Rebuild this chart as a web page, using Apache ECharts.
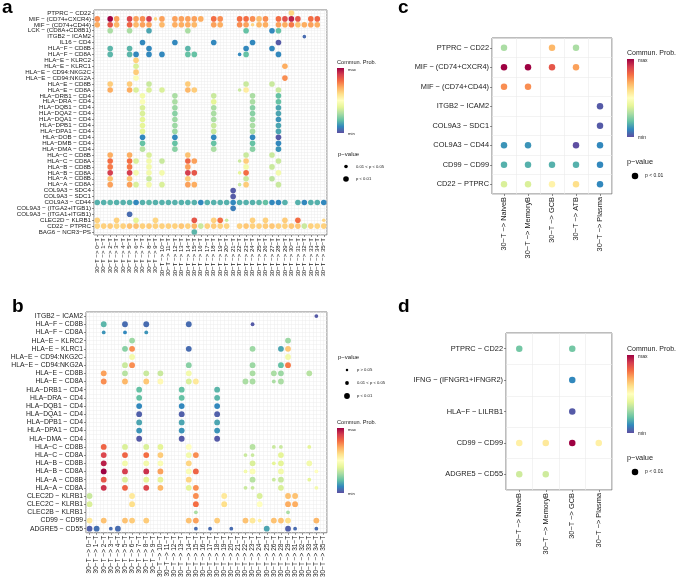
<!DOCTYPE html>
<html>
<head>
<meta charset="utf-8">
<script src="https://cdn.jsdelivr.net/npm/echarts@6/dist/echarts.min.js"></script>
<style>
  html, body { margin: 0; padding: 0; background: #fff; }
  #main { width: 677px; height: 580px; }
</style>
</head>
<body>
<div id="main"></div>
<script>
var FONT = 'Liberation Sans, Arial, sans-serif';
var spectral = ['#5E4FA2', '#3288BD', '#66C2A5', '#ABDDA4', '#E6F598', '#FFFFBF',
  '#FEE08B', '#FDAE61', '#F46D43', '#D53E4F', '#9E0142'];

// ---- panel a : 30-T -> all T clusters
var aTargets = [0, 1, 2, 3, 4, 5, 6, 7, 8, 9, 10, 11, 12, 13, 14, 15, 16, 17, 18, 19, 20,
  21, 22, 23, 24, 25, 26, 27, 28, 29, 30, 31, 32, 33, 34, 35];
var aPairs = ['PTPRC − CD22', 'MIF − (CD74+CXCR4)', 'MIF − (CD74+CD44)', 'LCK − (CD8A+CD8B1)',
  'ITGB2 − ICAM2', 'IL16 − CD4', 'HLA−F − CD8B', 'HLA−F − CD8A', 'HLA−E − KLRC2', 'HLA−E − KLRC1',
  'HLA−E − CD94:NKG2C', 'HLA−E − CD94:NKG2A', 'HLA−E − CD8B', 'HLA−E − CD8A', 'HLA−DRB1 − CD4',
  'HLA−DRA − CD4', 'HLA−DQB1 − CD4', 'HLA−DQA2 − CD4', 'HLA−DQA1 − CD4', 'HLA−DPB1 − CD4',
  'HLA−DPA1 − CD4', 'HLA−DOB − CD4', 'HLA−DMB − CD4', 'HLA−DMA − CD4', 'HLA−C − CD8B',
  'HLA−C − CD8A', 'HLA−B − CD8B', 'HLA−B − CD8A', 'HLA−A − CD8B', 'HLA−A − CD8A',
  'COL9A3 − SDC4', 'COL9A3 − SDC1', 'COL9A3 − CD44', 'COL9A3 − (ITGA2+ITGB1)',
  'COL9A3 − (ITGA1+ITGB1)', 'CLEC2D − KLRB1', 'CD22 − PTPRC', 'BAG6 − NCR3−PS'];
// one list per pair: [target index, commun. prob (0 min .. 1 max), p code]
// p code: 2 = p < 0.01, 1 = 0.01 < p < 0.05, 0 = p > 0.05
var aDots = [
  [[30, .62, 2]],
  [[0, .75, 2], [2, 1, 2], [3, .72, 2], [5, .88, 2], [6, .72, 2], [7, .75, 2], [8, .9, 2], [9, .62, 1],
   [10, .72, 2], [12, .72, 2], [13, .72, 2], [14, .72, 2], [15, .72, 2], [16, .7, 2], [18, .8, 2],
   [19, .75, 2], [22, .8, 2], [23, .8, 2], [24, .75, 2], [25, .67, 2], [26, .75, 2], [28, .8, 2],
   [29, .86, 2], [30, .95, 2], [31, .85, 2], [33, .8, 2], [34, .82, 2]],
  [[0, .7, 2], [2, .85, 2], [3, .68, 2], [5, .82, 2], [6, .68, 2], [7, .72, 2], [8, .72, 2],
   [10, .68, 2], [12, .7, 2], [13, .7, 2], [14, .7, 2], [15, .68, 2], [18, .72, 2], [19, .7, 2],
   [22, .75, 2], [23, .72, 2], [24, .62, 1], [25, .68, 2], [26, .7, 2], [28, .72, 2], [29, .7, 2],
   [30, .78, 2], [31, .66, 2], [32, .7, 2], [33, .72, 2], [34, .7, 2]],
  [[2, .3, 2], [5, .3, 2], [8, .15, 2], [14, .3, 2], [23, .2, 2], [27, .1, 2], [28, .2, 2]],
  [[32, .05, 1]],
  [[7, .1, 2], [12, .1, 2], [18, .1, 2], [24, .1, 2], [28, .02, 2]],
  [[2, .18, 2], [5, .18, 2], [8, .1, 2], [14, .18, 2], [23, .1, 2], [27, .1, 2]],
  [[2, .18, 2], [5, .18, 2], [6, .1, 2], [8, .1, 2], [10, .1, 2], [14, .2, 2], [15, .2, 2],
   [22, .1, 1], [23, .2, 2], [28, .1, 2]],
  [[6, .63, 2]],
  [[6, .38, 2], [29, .7, 2]],
  [[6, .64, 2]],
  [[6, .48, 2], [29, .75, 2]],
  [[2, .64, 2], [5, .64, 2], [8, .35, 2], [14, .64, 2], [23, .35, 2], [27, .35, 2]],
  [[2, .7, 2], [5, .7, 2], [6, .38, 2], [8, .38, 2], [10, .38, 2], [14, .68, 2], [15, .64, 2],
   [22, .35, 1], [23, .56, 2], [28, .35, 2]],
  [[7, .45, 2], [12, .3, 2], [18, .35, 2], [24, .3, 2], [28, .2, 2]],
  [[7, .48, 2], [12, .3, 2], [18, .4, 2], [24, .3, 2], [28, .2, 2]],
  [[7, .38, 2], [12, .28, 2], [18, .3, 2], [24, .25, 2], [28, .15, 2]],
  [[7, .38, 2], [12, .25, 2], [18, .3, 2], [24, .25, 2], [28, .15, 2]],
  [[7, .4, 2], [12, .28, 2], [18, .3, 2], [24, .28, 2], [28, .12, 2]],
  [[7, .4, 2], [12, .28, 2], [18, .35, 2], [24, .3, 2], [28, .15, 2]],
  [[7, .4, 2], [12, .28, 2], [18, .35, 2], [24, .3, 2], [28, .15, 2]],
  [[7, .1, 2], [12, .1, 2], [18, .1, 2], [24, .1, 2], [28, .02, 2]],
  [[7, .2, 2], [12, .2, 2], [18, .2, 2], [24, .2, 2], [28, .1, 2]],
  [[7, .32, 2], [12, .25, 2], [18, .3, 2], [24, .25, 2], [28, .12, 2]],
  [[2, .7, 2], [5, .7, 2], [8, .38, 2], [14, .66, 2], [23, .35, 2], [27, .35, 2]],
  [[2, .8, 2], [5, .8, 2], [6, .38, 2], [8, .45, 2], [10, .35, 2], [14, .82, 2], [15, .72, 2],
   [22, .35, 1], [23, .64, 2], [28, .35, 2]],
  [[2, .78, 2], [5, .78, 2], [8, .45, 2], [14, .72, 2], [23, .45, 2], [27, .35, 2]],
  [[2, .9, 2], [5, .9, 2], [6, .45, 2], [8, .45, 2], [10, .45, 2], [14, .9, 2], [15, .85, 2],
   [22, .4, 1], [23, .8, 2], [28, .45, 2]],
  [[2, .66, 2], [5, .66, 2], [8, .35, 2], [14, .64, 2], [23, .35, 2], [27, .33, 2]],
  [[2, .72, 2], [5, .72, 2], [6, .38, 2], [8, .45, 2], [10, .38, 2], [14, .72, 2], [15, .7, 2],
   [22, .35, 1], [23, .64, 2], [28, .35, 2]],
  [[21, .02, 2]],
  [[21, .02, 2]],
  [[0, .17, 2], [1, .17, 2], [2, .18, 2], [3, .17, 2], [4, .17, 2], [5, .17, 2], [6, .1, 2],
   [7, .17, 2], [8, .18, 2], [9, .17, 2], [10, .17, 2], [11, .17, 2], [12, .17, 2], [13, .17, 2],
   [14, .17, 2], [15, .17, 2], [16, .1, 2], [17, .17, 2], [18, .17, 2], [19, .17, 2], [20, .17, 2],
   [21, .1, 2], [22, .17, 2], [23, .17, 2], [24, .17, 2], [25, .18, 2], [26, .2, 2], [27, .1, 2],
   [28, .1, 2], [29, .17, 2], [31, .17, 2], [32, .1, 2], [33, .17, 2], [34, .17, 2], [35, .1, 2]],
  [[21, .08, 2]],
  [[5, .05, 2]],
  [[0, .63, 2], [3, .63, 2], [6, .4, 2], [9, .62, 2], [15, .85, 2], [18, .63, 2], [19, .8, 2],
   [20, .35, 1], [24, .63, 2], [26, .63, 2], [29, .64, 2], [31, .8, 2], [35, .62, 1]],
  [[0, .62, 2], [1, .63, 2], [2, .64, 2], [3, .62, 2], [4, .63, 2], [5, .66, 2], [6, .66, 2],
   [7, .63, 2], [8, .64, 2], [9, .63, 2], [10, .63, 2], [11, .63, 2], [12, .63, 2], [13, .65, 2],
   [14, .63, 2], [15, .68, 2], [16, .35, 2], [17, .63, 2], [18, .64, 2], [19, .63, 2], [20, .62, 2],
   [22, .63, 2], [23, .65, 2], [24, .63, 2], [25, .63, 2], [26, .64, 2], [27, .65, 2], [28, .63, 2],
   [29, .63, 2], [30, .65, 2], [31, .65, 2], [32, .35, 2], [33, .63, 2], [34, .62, 2], [35, .63, 2]],
  [[15, .18, 2]]
];

// ---- panel b : 30-T -> T clusters (subset)
var bTargets = [0, 1, 2, 3, 4, 5, 6, 7, 8, 9, 10, 11, 12, 13, 14, 15, 16, 17, 18, 19, 20,
  21, 22, 23, 24, 25, 26, 28, 29, 31, 32, 33, 34, 35];
var bPairs = ['ITGB2 − ICAM2', 'HLA−F − CD8B', 'HLA−F − CD8A', 'HLA−E − KLRC2', 'HLA−E − KLRC1',
  'HLA−E − CD94:NKG2C', 'HLA−E − CD94:NKG2A', 'HLA−E − CD8B', 'HLA−E − CD8A', 'HLA−DRB1 − CD4',
  'HLA−DRA − CD4', 'HLA−DQB1 − CD4', 'HLA−DQA1 − CD4', 'HLA−DPB1 − CD4', 'HLA−DPA1 − CD4',
  'HLA−DMA − CD4', 'HLA−C − CD8B', 'HLA−C − CD8A', 'HLA−B − CD8B', 'HLA−B − CD8A',
  'HLA−A − CD8B', 'HLA−A − CD8A', 'CLEC2D − KLRB1', 'CLEC2C − KLRB1', 'CLEC2B − KLRB1',
  'CD99 − CD99', 'ADGRE5 − CD55'];
// [position in bTargets, prob, p code]
var bDots = [
  [[32, .02, 1]],
  [[2, .18, 2], [5, .05, 2], [8, .05, 2], [14, .05, 2], [23, .02, 1]],
  [[2, .12, 1], [5, .1, 1], [8, .12, 1]],
  [[6, .28, 2], [28, .28, 2]],
  [[5, .25, 2], [6, .75, 2], [14, .05, 2], [23, .28, 2], [27, .15, 2], [28, .65, 2]],
  [[6, .45, 2], [28, .45, 2]],
  [[5, .35, 2], [6, .75, 2], [14, .25, 2], [23, .28, 2], [27, .2, 2], [28, .78, 2]],
  [[2, .72, 2], [5, .32, 2], [8, .35, 2], [10, .35, 2], [14, .45, 2], [23, .3, 2], [26, .3, 2],
   [27, .28, 2], [31, .32, 2]],
  [[2, .75, 2], [5, .68, 2], [8, .65, 2], [10, .52, 2], [14, .38, 2], [15, .57, 2], [22, .3, 2],
   [23, .3, 2], [26, .3, 1], [27, .3, 2]],
  [[7, .2, 2], [13, .2, 2], [18, .18, 2]],
  [[7, .2, 2], [13, .2, 2], [18, .18, 2]],
  [[7, .1, 2], [13, .1, 2], [18, .1, 2]],
  [[7, .03, 2], [13, .03, 2], [18, .03, 2]],
  [[7, .15, 2], [13, .15, 2], [18, .15, 2]],
  [[7, .12, 2], [13, .12, 2], [18, .12, 2]],
  [[7, .02, 2], [13, .02, 2], [18, .02, 2]],
  [[2, .82, 2], [5, .38, 2], [8, .38, 2], [10, .4, 2], [14, .5, 2], [23, .32, 2], [26, .35, 1],
   [27, .35, 1], [31, .4, 1]],
  [[2, .88, 2], [5, .82, 2], [8, .8, 2], [10, .64, 2], [14, .45, 2], [15, .75, 2], [22, .35, 1],
   [23, .35, 1], [27, .4, 2]],
  [[2, .95, 2], [5, .45, 2], [8, .45, 2], [10, .48, 2], [14, .62, 2], [23, .38, 2], [26, .4, 1],
   [27, .4, 2], [31, .45, 2]],
  [[2, 1, 2], [5, .9, 2], [8, .92, 2], [10, .72, 2], [14, .48, 2], [15, .82, 2], [22, .45, 1],
   [23, .48, 2], [27, .45, 2], [32, .5, 1]],
  [[2, .85, 2], [5, .38, 2], [8, .4, 2], [10, .4, 2], [14, .62, 2], [23, .32, 2], [26, .35, 1],
   [27, .35, 2], [31, .4, 1]],
  [[2, .92, 2], [5, .82, 2], [8, .88, 2], [10, .68, 2], [14, .4, 2], [15, .75, 2], [22, .35, 1],
   [23, .35, 1], [27, .38, 2], [32, .45, 1]],
  [[0, .35, 2], [6, .57, 2], [15, .75, 2], [19, .57, 2], [24, .38, 2], [28, .66, 2], [29, .66, 2]],
  [[0, .38, 2], [6, .6, 2], [15, .8, 2], [19, .6, 2], [24, .5, 2], [28, .7, 2], [29, .7, 2]],
  [[15, .3, 1], [28, .3, 1]],
  [[0, .57, 2], [2, .66, 2], [5, .66, 2], [6, .64, 2], [8, .64, 2], [14, .66, 2], [15, .72, 2],
   [18, .64, 2], [22, .66, 2], [23, .57, 2], [24, .55, 1], [26, .66, 2], [27, .66, 2],
   [28, .6, 2], [32, .68, 2]],
  [[0, .03, 2], [1, .06, 2], [3, .05, 1], [4, .05, 2], [15, .05, 1], [17, .05, 1], [20, .05, 1],
   [25, .15, 2], [28, .03, 2], [29, .05, 1], [32, .05, 1]]
];

// ---- panel c : 30-T -> B cells
var cTargets = ['NaiveB', 'MemoryB', 'GCB', 'ATB', 'Plasma'];
var cPairs = ['PTPRC − CD22', 'MIF − (CD74+CXCR4)', 'MIF − (CD74+CD44)', 'ITGB2 − ICAM2',
  'COL9A3 − SDC1', 'COL9A3 − CD44', 'CD99 − CD99', 'CD22 − PTPRC'];
var cDots = [
  [[0, .3, 2], [2, .68, 2], [3, .3, 2]],
  [[0, 1, 2], [1, 1, 2], [2, .85, 2], [3, .72, 2]],
  [[0, .75, 2], [1, .75, 2]],
  [[4, .02, 2]],
  [[4, .02, 2]],
  [[0, .12, 2], [1, .12, 2], [3, 0, 2], [4, .1, 2]],
  [[0, .17, 2], [1, .17, 2], [2, .17, 2], [3, .17, 2], [4, .1, 2]],
  [[0, .38, 2], [1, .38, 2], [2, .54, 2], [3, .6, 2], [4, .1, 2]]
];

// ---- panel d : 30-T -> B cells
var dTargets = ['NaiveB', 'MemoryB', 'GCB', 'Plasma'];
var dPairs = ['PTPRC − CD22', 'IFNG − (IFNGR1+IFNGR2)', 'HLA−F − LILRB1', 'CD99 − CD99',
  'ADGRE5 − CD55'];
var dDots = [
  [[0, .22, 2], [2, .22, 2]],
  [[2, .1, 2]],
  [[2, .02, 2]],
  [[0, .55, 2], [1, .57, 2], [2, 1, 2], [3, .55, 2]],
  [[0, .36, 2], [1, .36, 2]]
];

function toPoints(rows) {
  var out = [];
  rows.forEach(function (list, r) {
    list.forEach(function (d) { out.push([d[0], r, d[1], d[2]]); });
  });
  return out;
}
function tLabels(arr) {
  return arr.map(function (t) { return '30−T −> ' + (typeof t === 'number' ? t + '−T' : t); });
}

var panels = [
  { x: tLabels(aTargets), y: aPairs, pts: toPoints(aDots), grid: [94, 10, 233, 225], fy: 6.2, fx: 6.1, size: [2.5, 3.6, 5.6], fine: true },
  { x: tLabels(bTargets), y: bPairs, pts: toPoints(bDots), grid: [86, 312, 241, 223], fy: 6.8, fx: 6.5, size: [2.5, 3.8, 5.8], fine: true },
  { x: tLabels(cTargets), y: cPairs, pts: toPoints(cDots), grid: [492, 38, 120, 156], fy: 7.4, fx: 7.4, size: [3, 4.5, 6.5] },
  { x: tLabels(dTargets), y: dPairs, pts: toPoints(dDots), grid: [506, 333, 106, 157], fy: 7.4, fx: 7.4, size: [3, 4.5, 6.5] }
];

var grids = [], xAxes = [], yAxes = [], series = [], vmaps = [];
var extraX = [], extraY = [];
panels.forEach(function (p, i) {
  grids.push({ left: p.grid[0], top: p.grid[1], width: p.grid[2], height: p.grid[3],
    show: true, borderColor: '#7a7a7a', borderWidth: 1, backgroundColor: '#fff' });
  var tick = { show: true, length: 2, alignWithLabel: true, lineStyle: { color: '#444', width: 0.6 } };
  var split = { show: !p.fine, lineStyle: { color: '#ebebeb', width: 0.6 } };
  xAxes.push({ gridIndex: i, type: 'category', data: p.x, boundaryGap: true,
    axisLine: { show: false }, axisTick: tick, splitLine: split,
    axisLabel: { rotate: 90, interval: 0, margin: 3, fontSize: p.fx, color: '#1a1a1a', fontFamily: FONT } });
  yAxes.push({ gridIndex: i, type: 'category', data: p.y, inverse: true, boundaryGap: true,
    axisLine: { show: false }, axisTick: tick, splitLine: split,
    axisLabel: { interval: 0, margin: 3, fontSize: p.fy, color: '#1a1a1a', fontFamily: FONT } });
  if (p.fine) {
    // hidden half-cell axes: grid lines through the dots and between them
    var half = function (n) { var h = []; for (var k = 0; k < 2 * n; k++) h.push(String(k)); return h; };
    var hidden = { gridIndex: i, type: 'category', boundaryGap: true, axisLine: { show: false },
      axisTick: { show: false }, axisLabel: { show: false },
      splitLine: { show: true, interval: 0, lineStyle: { color: '#ececec', width: 0.5 } } };
    extraX.push(Object.assign({ data: half(p.x.length) }, hidden));
    extraY.push(Object.assign({ data: half(p.y.length) }, hidden));
  }
  series.push({ type: 'scatter', xAxisIndex: i, yAxisIndex: i, data: p.pts, silent: true, z: 3,
    symbolSize: function (v) { return p.size[v[3]]; }, itemStyle: { opacity: 1 } });
  vmaps.push({ type: 'continuous', show: false, seriesIndex: i, dimension: 2, min: 0, max: 1,
    inRange: { color: spectral } });
});

// legend helpers
var grad = { type: 'linear', x: 0, y: 0, x2: 0, y2: 1,
  colorStops: spectral.slice().reverse().map(function (c, k) { return { offset: k / 10, color: c }; }) };
function txt(x, y, s, fs, opt) {
  return { type: 'text', x: x, y: y, silent: true,
    style: Object.assign({ text: s, fontSize: fs, fontFamily: FONT, fill: '#1a1a1a',
      textAlign: 'left', textVerticalAlign: 'middle' }, opt || {}) };
}
function colorBar(x, y, w, h, fsT, fsS) {
  return [
    txt(x, y - 6, 'Commun. Prob.', fsT),
    { type: 'rect', silent: true, shape: { x: x, y: y, width: w, height: h }, style: { fill: grad } },
    txt(x + w + 4, y + 2, 'max', fsS),
    txt(x + w + 4, y + h + 1, 'min', fsS)
  ];
}
function pLegend(x, y, items, gap, fsT, fsS) {
  var els = [txt(x, y, 'p−value', fsT)];
  items.forEach(function (it, k) {
    var cy = y + gap * (k + 1);
    els.push({ type: 'circle', silent: true, shape: { cx: x + it[2], cy: cy, r: it[1] / 2 }, style: { fill: '#000' } });
    els.push(txt(x + it[2] + 10, cy, it[0], fsS));
  });
  return els;
}
function letter(x, y, s) {
  return txt(x, y, s, 19, { fontWeight: 'bold', fill: '#000', textVerticalAlign: 'bottom' });
}

var graphics = [].concat(
  letter(2, 17, 'a'), letter(12, 316, 'b'), letter(398, 17, 'c'), letter(398, 316, 'd'),
  colorBar(337, 68, 7, 65, 5.6, 4.2),
  pLegend(338, 154, [['0.01 < p < 0.05', 3.6, 8], ['p < 0.01', 5.6, 8]], 12.5, 6, 4.2),
  pLegend(338, 357, [['p > 0.05', 2.5, 9], ['0.01 < p < 0.05', 3.8, 9], ['p < 0.01', 5.8, 9]], 13, 6, 4.2),
  colorBar(337, 428, 7, 65, 5.6, 4.2),
  colorBar(627, 59, 7, 78, 7, 5),
  pLegend(627, 162, [['p < 0.01', 6.5, 8]], 14, 7.4, 5),
  colorBar(627, 355, 7, 78, 7, 5),
  pLegend(627, 458, [['p < 0.01', 6.5, 8]], 14, 7.4, 5)
);

var chart = echarts.init(document.getElementById('main'), null, { renderer: 'canvas' });
chart.setOption({
  backgroundColor: '#fff',
  animation: false,
  grid: grids,
  xAxis: xAxes.concat(extraX),
  yAxis: yAxes.concat(extraY),
  visualMap: vmaps,
  series: series,
  graphic: { elements: graphics }
});
</script>
</body>
</html>
